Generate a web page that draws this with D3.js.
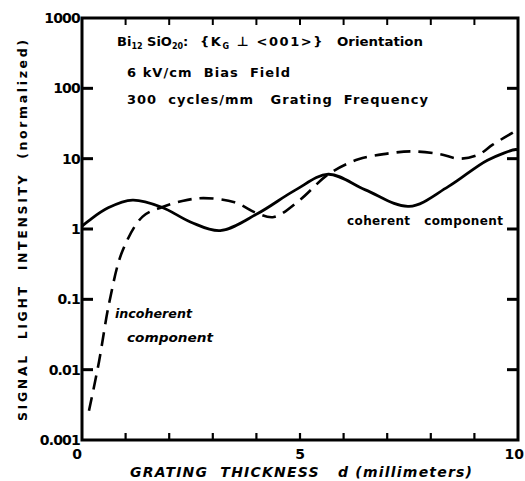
<!DOCTYPE html>
<html lang="en">
<head>
<meta charset="utf-8">
<script src="https://cdnjs.cloudflare.com/ajax/libs/d3/7.8.5/d3.min.js"></script>
<style>
  body { margin: 0; background: #fff; }
  text { font-family: "DejaVu Sans", sans-serif; font-weight: bold; fill: #000; }
</style>
</head>
<body>
<div id="chart"></div>
<script>
// coherent component (solid line), thickness in mm vs normalized intensity
var coherentX = [0, 0.16, 0.6, 1.16, 1.83, 2.5, 3.17, 4.03, 4.9, 5.65, 6.5, 7.5, 8.4, 9.3, 9.95, 10];
var coherentY = [1.1, 1.32, 2.0, 2.57, 2.04, 1.25, 0.95, 1.66, 3.6, 6.0, 3.6, 2.1, 4.0, 9.5, 13.5, 13.3];

// incoherent component (dashed line)
var incoherentX = [0.16, 0.39, 0.63, 0.93, 1.39, 1.83, 2.3, 2.78, 3.5, 4.03, 4.4, 5.0, 5.65, 6.34, 7.0, 7.57, 8.2, 8.66, 9.1, 9.42, 10];
var incoherentY = [0.0026, 0.013, 0.093, 0.49, 1.5, 2.04, 2.5, 2.75, 2.4, 1.66, 1.48, 2.6, 6.0, 9.8, 11.8, 12.7, 11.6, 10.0, 11.5, 15.8, 26];

var yTicks = [0.001, 0.01, 0.1, 1, 10, 100, 1000];
var yTickLabels = ["0.001", "0.01", "0.1", "1", "10", "100", "1000"];
var xTicks = [1, 2, 3, 4, 5, 6, 7, 8, 9];
var xTickLabels = ["0", "5", "10"];

var width = 525, height = 481;
var plotL = 82, plotR = 518, plotT = 18, plotB = 440;

var svg = d3.select("#chart").append("svg")
    .attr("width", width)
    .attr("height", height);

var x = d3.scaleLinear().domain([0, 10]).range([plotL, plotR]);
var y = d3.scaleLog().domain([0.001, 1000]).range([plotB, plotT]);

// frame
svg.append("rect")
    .attr("x", plotL).attr("y", plotT)
    .attr("width", plotR - plotL).attr("height", plotB - plotT)
    .attr("fill", "none").attr("stroke", "#000").attr("stroke-width", 3);

// small inner ticks along top and bottom, decade ticks left and right
var ticks = svg.append("g").attr("stroke", "#000");
ticks.selectAll("line.xb")
    .data(xTicks)
    .enter().append("line").attr("class", "xb")
    .attr("x1", d => x(d)).attr("x2", d => x(d))
    .attr("y1", plotB).attr("y2", plotB - 7)
    .attr("stroke-width", 2.2);
ticks.selectAll("line.xt")
    .data(xTicks)
    .enter().append("line").attr("class", "xt")
    .attr("x1", d => x(d)).attr("x2", d => x(d))
    .attr("y1", plotT).attr("y2", plotT + 7)
    .attr("stroke-width", 2);

var innerY = yTicks.slice(1, -1);
ticks.selectAll("line.yl")
    .data(innerY)
    .enter().append("line").attr("class", "yl")
    .attr("x1", plotL).attr("x2", plotL + 11)
    .attr("y1", d => y(d)).attr("y2", d => y(d))
    .attr("stroke-width", 3);
ticks.selectAll("line.yr")
    .data(innerY)
    .enter().append("line").attr("class", "yr")
    .attr("x1", plotR).attr("x2", plotR - 11)
    .attr("y1", d => y(d)).attr("y2", d => y(d))
    .attr("stroke-width", 3);

// y tick labels
svg.selectAll("text.ylab")
    .data(yTicks)
    .enter().append("text").attr("class", "ylab")
    .attr("x", plotL - 2)
    .attr("y", d => y(d) + 5)
    .attr("text-anchor", "end")
    .attr("font-size", 14)
    .attr("letter-spacing", -0.8)
    .text((d, i) => yTickLabels[i]);

// x tick labels
svg.selectAll("text.xlab")
    .data(xTickLabels)
    .enter().append("text").attr("class", "xlab")
    .attr("x", d => d == "0" ? x(0) - 5 : d == "10" ? 524 : x(+d))
    .attr("y", 459)
    .attr("text-anchor", d => d == "10" ? "end" : "middle")
    .attr("font-size", 14)
    .text(d => d);

var line = d3.line()
    .x(d => x(d[0]))
    .y(d => y(d[1]))
    .curve(d3.curveCatmullRom.alpha(0.5));

svg.append("path")
    .datum(coherentX.map((v, i) => [v, coherentY[i]]))
    .attr("d", line)
    .attr("fill", "none")
    .attr("stroke", "#000")
    .attr("stroke-width", 2.8);

svg.append("path")
    .datum(incoherentX.map((v, i) => [v, incoherentY[i]]))
    .attr("d", line)
    .attr("fill", "none")
    .attr("stroke", "#000")
    .attr("stroke-width", 2.6)
    .attr("stroke-dasharray", "14,8");

// annotation text
var t1 = svg.append("text").attr("x", 117).attr("y", 46).attr("font-size", 13);
t1.append("tspan").text("Bi");
t1.append("tspan").attr("font-size", 8).attr("dy", 3).text("12");
t1.append("tspan").attr("dy", -3).text(" SiO");
t1.append("tspan").attr("font-size", 8).attr("dy", 3).text("20");
t1.append("tspan").attr("dy", -3).text(":");

var t2 = svg.append("text").attr("x", 200).attr("y", 46).attr("font-size", 13).attr("letter-spacing", 1.6);
t2.append("tspan").text("{K");
t2.append("tspan").attr("font-size", 8).attr("dy", 3).text("G");
t2.append("tspan").attr("dy", -3).text(" \u22A5 <001>}");

svg.append("text").attr("x", 337).attr("y", 46).attr("font-size", 13)
    .attr("textLength", 86).attr("lengthAdjust", "spacingAndGlyphs").text("Orientation");

svg.append("text").attr("x", 127).attr("y", 77).attr("font-size", 13)
    .attr("textLength", 163).attr("lengthAdjust", "spacing")
    .attr("xml:space", "preserve").text("6 kV/cm  Bias  Field");
svg.append("text").attr("x", 127).attr("y", 104).attr("font-size", 13)
    .attr("textLength", 301).attr("lengthAdjust", "spacing")
    .attr("xml:space", "preserve").text("300  cycles/mm   Grating  Frequency");

svg.append("text").attr("x", 347).attr("y", 225).attr("font-size", 12)
    .attr("textLength", 156).attr("lengthAdjust", "spacing")
    .attr("xml:space", "preserve").text("coherent   component");
svg.append("text").attr("x", 115).attr("y", 318).attr("font-size", 12).attr("font-style", "italic")
    .attr("textLength", 77).attr("lengthAdjust", "spacingAndGlyphs").text("incoherent");
svg.append("text").attr("x", 127).attr("y", 342).attr("font-size", 12).attr("font-style", "italic")
    .attr("textLength", 86).attr("lengthAdjust", "spacingAndGlyphs").text("component");

// axis titles
svg.append("text")
    .attr("x", 130).attr("y", 477)
    .attr("font-size", 14)
    .attr("font-style", "italic")
    .attr("textLength", 342).attr("lengthAdjust", "spacing")
    .attr("xml:space", "preserve")
    .text("GRATING  THICKNESS   d (millimeters)");

svg.append("text")
    .attr("transform", "translate(27,421) rotate(-90)")
    .attr("font-size", 12.5)
    .attr("textLength", 381).attr("lengthAdjust", "spacing")
    .attr("xml:space", "preserve")
    .text("SIGNAL  LIGHT  INTENSITY  (normalized)");
</script>
</body>
</html>
